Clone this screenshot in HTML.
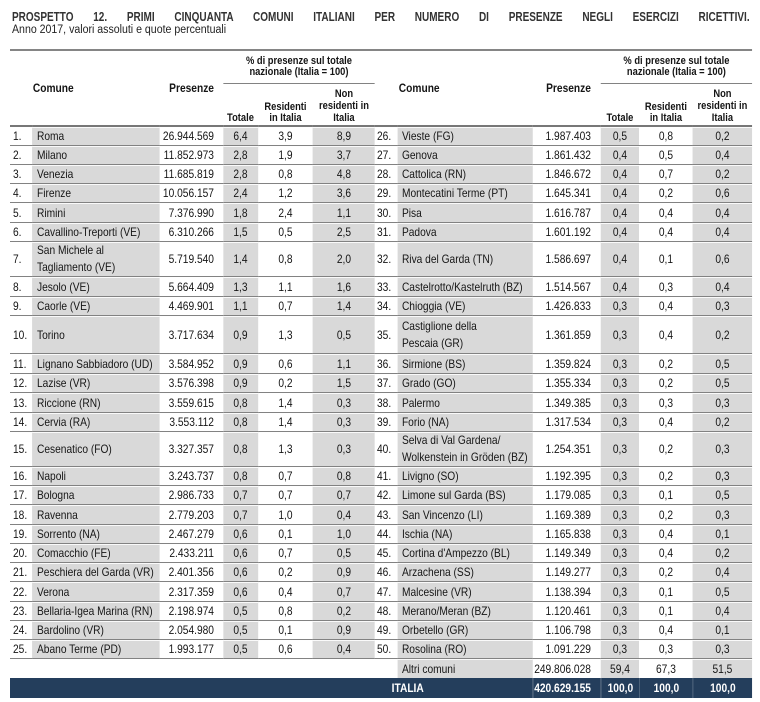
<!DOCTYPE html>
<html><head><meta charset="utf-8">
<style>
*{margin:0;padding:0;box-sizing:border-box}
html,body{width:760px;height:702px;background:#fff;overflow:hidden}
body{position:relative;font-family:"Liberation Sans",Arial,sans-serif;color:#151515}
.title{position:absolute;left:12px;top:10px;width:922px;transform:scaleX(0.8);transform-origin:0 0;font-weight:bold;font-size:12.5px;line-height:14px;color:#333;text-align:justify;text-align-last:justify}
.sub{position:absolute;left:12px;top:24px;font-size:11.5px;line-height:13px;color:#222;transform:scaleX(0.92);transform-origin:0 0;white-space:nowrap}
.tbl{position:absolute;left:10px;top:49px;width:872.95px;transform:scaleX(0.85);transform-origin:0 0;display:grid;
grid-template-columns:25.88px 150.59px 74.12px 41.18px 64.71px 72.94px 27.06px 158.82px 80px 44.71px 63.53px 69.41px;
grid-template-rows:33px 43px 19px 19px 19px 19px 20px 19px 35px 20px 19px 38px 20px 19px 20px 19px 35px 19px 19px 20px 19px 19px 19px 20px 19px 19px 19px 19px 20px;
border-top:2px solid #858585}
.tbl>div{display:flex;align-items:center;white-space:nowrap;font-size:12px;line-height:14px;border-bottom:1px solid #828282}
.g{background:#d9d9d9;box-shadow:inset 0 1px 0 #fafafa}
.n{padding-left:3.5px}
.m{padding-left:2.4px}
.c{padding-left:5.9px}
.cr{padding-left:4.7px}
.p{justify-content:flex-end;padding-right:10.6px}
.pr{justify-content:flex-end;padding-right:11.8px}
.ct{justify-content:center}
.tw{line-height:17px !important}
.tbl>div.hd{font-weight:bold;border-bottom:2px solid #777}
.tbl>div.pc{font-weight:bold;font-size:11px;line-height:11px;flex-direction:column;justify-content:center;text-align:center;border-bottom:1px solid #828282}
.tbl>div.sh{font-weight:bold;font-size:11px;line-height:12px;flex-direction:column;justify-content:flex-end;align-items:center;text-align:center;padding-bottom:1px;border-bottom:2px solid #777}
.tbl>div.nb{border-bottom:0}
.tbl>div.b{background:#243e5c;color:#fff;font-weight:bold;border-bottom:0}
.bl{border-left:1px solid rgba(255,255,255,0.22)}
</style></head><body>
<div class="title">PROSPETTO 12. PRIMI CINQUANTA COMUNI ITALIANI PER NUMERO DI PRESENZE NEGLI ESERCIZI RICETTIVI.</div>
<div class="sub">Anno 2017, valori assoluti e quote percentuali</div>
<div class="tbl">
<div class="hd" style="grid-column:1;grid-row:1/3"></div>
<div class="hd" style="grid-column:2;grid-row:1/3;padding-left:1px">Comune</div>
<div class="hd" style="grid-column:3;grid-row:1/3;justify-content:flex-end;padding-right:10.6px">Presenze</div>
<div class="pc" style="grid-column:4/7;grid-row:1">% di presenze sul totale<br>nazionale (Italia = 100)</div>
<div class="sh" style="grid-column:4;grid-row:2">Totale</div>
<div class="sh" style="grid-column:5;grid-row:2;line-height:11px">Residenti<br>in Italia</div>
<div class="sh" style="grid-column:6;grid-row:2">Non<br>residenti in<br>Italia</div>
<div class="hd" style="grid-column:7;grid-row:1/3"></div>
<div class="hd" style="grid-column:8;grid-row:1/3;padding-left:1px">Comune</div>
<div class="hd" style="grid-column:9;grid-row:1/3;justify-content:flex-end;padding-right:11.8px">Presenze</div>
<div class="pc" style="grid-column:10/13;grid-row:1">% di presenze sul totale<br>nazionale (Italia = 100)</div>
<div class="sh" style="grid-column:10;grid-row:2">Totale</div>
<div class="sh" style="grid-column:11;grid-row:2;line-height:11px">Residenti<br>in Italia</div>
<div class="sh" style="grid-column:12;grid-row:2">Non<br>residenti in<br>Italia</div>

<div class="n">1.</div><div class="g c">Roma</div><div class="p">26.944.569</div><div class="g ct">6,4</div><div class="ct">3,9</div><div class="g ct">8,9</div>
<div class="m">26.</div><div class="g cr">Vieste (FG)</div><div class="pr">1.987.403</div><div class="g ct">0,5</div><div class="ct">0,8</div><div class="g ct">0,2</div>

<div class="n">2.</div><div class="g c">Milano</div><div class="p">11.852.973</div><div class="g ct">2,8</div><div class="ct">1,9</div><div class="g ct">3,7</div>
<div class="m">27.</div><div class="g cr">Genova</div><div class="pr">1.861.432</div><div class="g ct">0,4</div><div class="ct">0,5</div><div class="g ct">0,4</div>

<div class="n">3.</div><div class="g c">Venezia</div><div class="p">11.685.819</div><div class="g ct">2,8</div><div class="ct">0,8</div><div class="g ct">4,8</div>
<div class="m">28.</div><div class="g cr">Cattolica (RN)</div><div class="pr">1.846.672</div><div class="g ct">0,4</div><div class="ct">0,7</div><div class="g ct">0,2</div>

<div class="n">4.</div><div class="g c">Firenze</div><div class="p">10.056.157</div><div class="g ct">2,4</div><div class="ct">1,2</div><div class="g ct">3,6</div>
<div class="m">29.</div><div class="g cr">Montecatini Terme (PT)</div><div class="pr">1.645.341</div><div class="g ct">0,4</div><div class="ct">0,2</div><div class="g ct">0,6</div>

<div class="n">5.</div><div class="g c">Rimini</div><div class="p">7.376.990</div><div class="g ct">1,8</div><div class="ct">2,4</div><div class="g ct">1,1</div>
<div class="m">30.</div><div class="g cr">Pisa</div><div class="pr">1.616.787</div><div class="g ct">0,4</div><div class="ct">0,4</div><div class="g ct">0,4</div>

<div class="n">6.</div><div class="g c">Cavallino-Treporti (VE)</div><div class="p">6.310.266</div><div class="g ct">1,5</div><div class="ct">0,5</div><div class="g ct">2,5</div>
<div class="m">31.</div><div class="g cr">Padova</div><div class="pr">1.601.192</div><div class="g ct">0,4</div><div class="ct">0,4</div><div class="g ct">0,4</div>

<div class="n">7.</div><div class="g c tw">San Michele al<br>Tagliamento (VE)</div><div class="p">5.719.540</div><div class="g ct">1,4</div><div class="ct">0,8</div><div class="g ct">2,0</div>
<div class="m">32.</div><div class="g cr">Riva del Garda (TN)</div><div class="pr">1.586.697</div><div class="g ct">0,4</div><div class="ct">0,1</div><div class="g ct">0,6</div>

<div class="n">8.</div><div class="g c">Jesolo (VE)</div><div class="p">5.664.409</div><div class="g ct">1,3</div><div class="ct">1,1</div><div class="g ct">1,6</div>
<div class="m">33.</div><div class="g cr">Castelrotto/Kastelruth (BZ)</div><div class="pr">1.514.567</div><div class="g ct">0,4</div><div class="ct">0,3</div><div class="g ct">0,4</div>

<div class="n">9.</div><div class="g c">Caorle (VE)</div><div class="p">4.469.901</div><div class="g ct">1,1</div><div class="ct">0,7</div><div class="g ct">1,4</div>
<div class="m">34.</div><div class="g cr">Chioggia (VE)</div><div class="pr">1.426.833</div><div class="g ct">0,3</div><div class="ct">0,4</div><div class="g ct">0,3</div>

<div class="n">10.</div><div class="g c">Torino</div><div class="p">3.717.634</div><div class="g ct">0,9</div><div class="ct">1,3</div><div class="g ct">0,5</div>
<div class="m">35.</div><div class="g cr tw">Castiglione della<br>Pescaia (GR)</div><div class="pr">1.361.859</div><div class="g ct">0,3</div><div class="ct">0,4</div><div class="g ct">0,2</div>

<div class="n">11.</div><div class="g c">Lignano Sabbiadoro (UD)</div><div class="p">3.584.952</div><div class="g ct">0,9</div><div class="ct">0,6</div><div class="g ct">1,1</div>
<div class="m">36.</div><div class="g cr">Sirmione (BS)</div><div class="pr">1.359.824</div><div class="g ct">0,3</div><div class="ct">0,2</div><div class="g ct">0,5</div>

<div class="n">12.</div><div class="g c">Lazise (VR)</div><div class="p">3.576.398</div><div class="g ct">0,9</div><div class="ct">0,2</div><div class="g ct">1,5</div>
<div class="m">37.</div><div class="g cr">Grado (GO)</div><div class="pr">1.355.334</div><div class="g ct">0,3</div><div class="ct">0,2</div><div class="g ct">0,5</div>

<div class="n">13.</div><div class="g c">Riccione (RN)</div><div class="p">3.559.615</div><div class="g ct">0,8</div><div class="ct">1,4</div><div class="g ct">0,3</div>
<div class="m">38.</div><div class="g cr">Palermo</div><div class="pr">1.349.385</div><div class="g ct">0,3</div><div class="ct">0,3</div><div class="g ct">0,3</div>

<div class="n">14.</div><div class="g c">Cervia (RA)</div><div class="p">3.553.112</div><div class="g ct">0,8</div><div class="ct">1,4</div><div class="g ct">0,3</div>
<div class="m">39.</div><div class="g cr">Forio (NA)</div><div class="pr">1.317.534</div><div class="g ct">0,3</div><div class="ct">0,4</div><div class="g ct">0,2</div>

<div class="n">15.</div><div class="g c">Cesenatico (FO)</div><div class="p">3.327.357</div><div class="g ct">0,8</div><div class="ct">1,3</div><div class="g ct">0,3</div>
<div class="m">40.</div><div class="g cr tw">Selva di Val Gardena/<br>Wolkenstein in Gröden (BZ)</div><div class="pr">1.254.351</div><div class="g ct">0,3</div><div class="ct">0,2</div><div class="g ct">0,3</div>

<div class="n">16.</div><div class="g c">Napoli</div><div class="p">3.243.737</div><div class="g ct">0,8</div><div class="ct">0,7</div><div class="g ct">0,8</div>
<div class="m">41.</div><div class="g cr">Livigno (SO)</div><div class="pr">1.192.395</div><div class="g ct">0,3</div><div class="ct">0,2</div><div class="g ct">0,3</div>

<div class="n">17.</div><div class="g c">Bologna</div><div class="p">2.986.733</div><div class="g ct">0,7</div><div class="ct">0,7</div><div class="g ct">0,7</div>
<div class="m">42.</div><div class="g cr">Limone sul Garda (BS)</div><div class="pr">1.179.085</div><div class="g ct">0,3</div><div class="ct">0,1</div><div class="g ct">0,5</div>

<div class="n">18.</div><div class="g c">Ravenna</div><div class="p">2.779.203</div><div class="g ct">0,7</div><div class="ct">1,0</div><div class="g ct">0,4</div>
<div class="m">43.</div><div class="g cr">San Vincenzo (LI)</div><div class="pr">1.169.389</div><div class="g ct">0,3</div><div class="ct">0,2</div><div class="g ct">0,3</div>

<div class="n">19.</div><div class="g c">Sorrento (NA)</div><div class="p">2.467.279</div><div class="g ct">0,6</div><div class="ct">0,1</div><div class="g ct">1,0</div>
<div class="m">44.</div><div class="g cr">Ischia (NA)</div><div class="pr">1.165.838</div><div class="g ct">0,3</div><div class="ct">0,4</div><div class="g ct">0,1</div>

<div class="n">20.</div><div class="g c">Comacchio (FE)</div><div class="p">2.433.211</div><div class="g ct">0,6</div><div class="ct">0,7</div><div class="g ct">0,5</div>
<div class="m">45.</div><div class="g cr">Cortina d'Ampezzo (BL)</div><div class="pr">1.149.349</div><div class="g ct">0,3</div><div class="ct">0,4</div><div class="g ct">0,2</div>

<div class="n">21.</div><div class="g c">Peschiera del Garda (VR)</div><div class="p">2.401.356</div><div class="g ct">0,6</div><div class="ct">0,2</div><div class="g ct">0,9</div>
<div class="m">46.</div><div class="g cr">Arzachena (SS)</div><div class="pr">1.149.277</div><div class="g ct">0,3</div><div class="ct">0,2</div><div class="g ct">0,4</div>

<div class="n">22.</div><div class="g c">Verona</div><div class="p">2.317.359</div><div class="g ct">0,6</div><div class="ct">0,4</div><div class="g ct">0,7</div>
<div class="m">47.</div><div class="g cr">Malcesine (VR)</div><div class="pr">1.138.394</div><div class="g ct">0,3</div><div class="ct">0,1</div><div class="g ct">0,5</div>

<div class="n">23.</div><div class="g c">Bellaria-Igea Marina (RN)</div><div class="p">2.198.974</div><div class="g ct">0,5</div><div class="ct">0,8</div><div class="g ct">0,2</div>
<div class="m">48.</div><div class="g cr">Merano/Meran (BZ)</div><div class="pr">1.120.461</div><div class="g ct">0,3</div><div class="ct">0,1</div><div class="g ct">0,4</div>

<div class="n">24.</div><div class="g c">Bardolino (VR)</div><div class="p">2.054.980</div><div class="g ct">0,5</div><div class="ct">0,1</div><div class="g ct">0,9</div>
<div class="m">49.</div><div class="g cr">Orbetello (GR)</div><div class="pr">1.106.798</div><div class="g ct">0,3</div><div class="ct">0,4</div><div class="g ct">0,1</div>

<div class="n">25.</div><div class="g c">Abano Terme (PD)</div><div class="p">1.993.177</div><div class="g ct">0,5</div><div class="ct">0,6</div><div class="g ct">0,4</div>
<div class="m">50.</div><div class="g cr">Rosolina (RO)</div><div class="pr">1.091.229</div><div class="g ct">0,3</div><div class="ct">0,3</div><div class="g ct">0,3</div>

<div class="nb" style="grid-column:1/7"></div>
<div class="m nb"></div><div class="g cr nb">Altri comuni</div><div class="pr nb">249.806.028</div><div class="g ct nb">59,4</div><div class="ct nb">67,3</div><div class="g ct nb">51,5</div>

<div class="b" style="grid-column:1/9;padding-left:449px">ITALIA</div><div class="b pr bl">420.629.155</div><div class="b ct bl">100,0</div><div class="b ct bl">100,0</div><div class="b ct bl">100,0</div>
</div>
</body></html>
